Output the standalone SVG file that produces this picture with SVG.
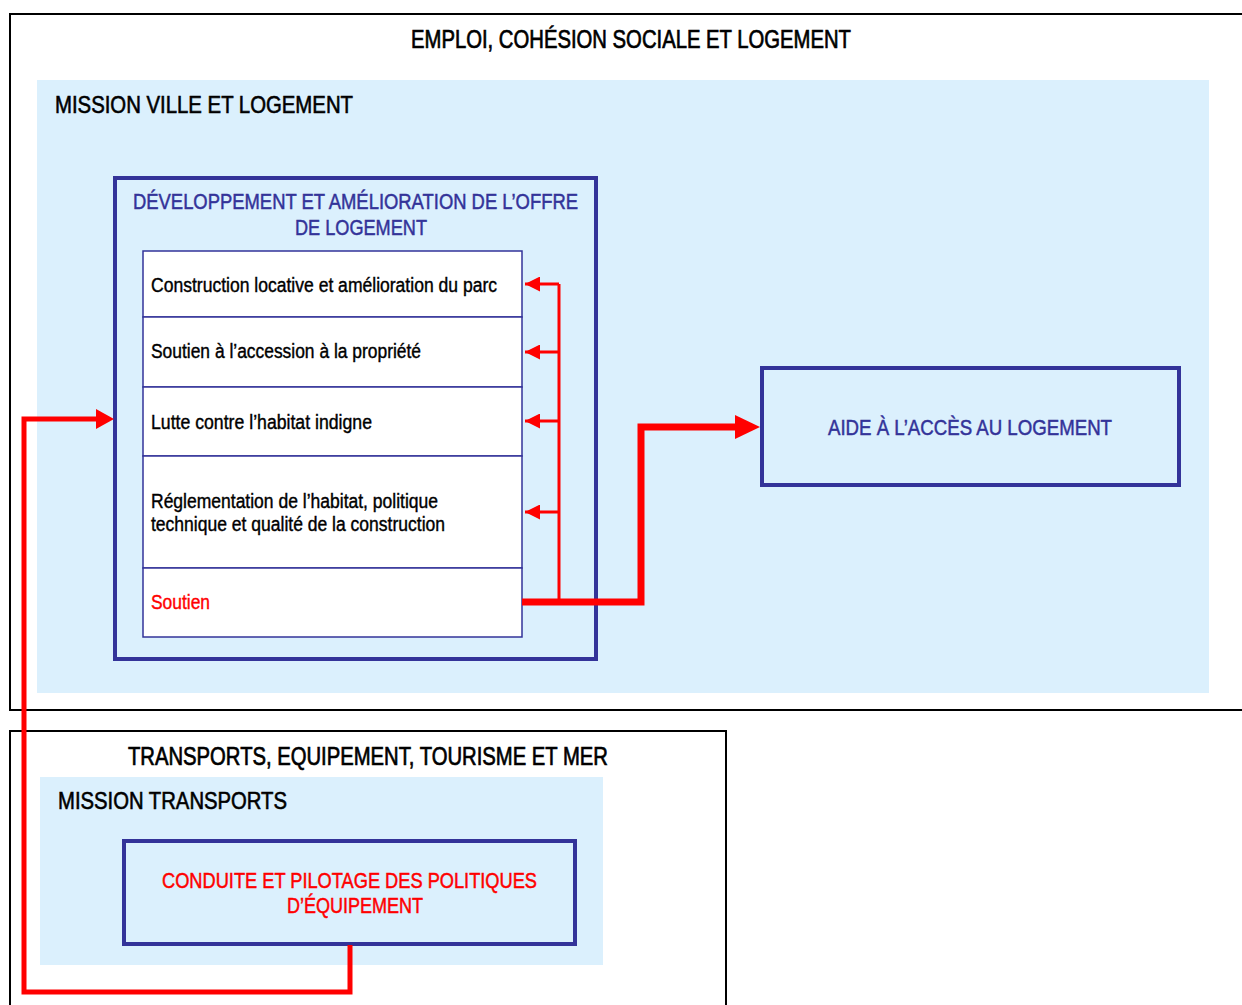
<svg xmlns="http://www.w3.org/2000/svg" width="1242" height="1005" viewBox="0 0 1242 1005">
<style>
text{font-family:"Liberation Sans Narrow","Liberation Sans",Arial,sans-serif;stroke-width:0.5}
.outer{fill:#fff;stroke:#000;stroke-width:2}
.mission{fill:#dbf0fd}
.prog{fill:#dbf0fd;stroke:#333399;stroke-width:4}
.row{fill:#fff;stroke:#333399;stroke-width:1.5}
.h1{font-size:25px;fill:#000;stroke:#000;stroke-width:0.7}
.h2{font-size:24px;fill:#000;stroke:#000;stroke-width:0.6}
.ptitle{font-size:22px;fill:#333399;stroke:#333399}
.rt{font-size:20px;fill:#000;stroke:#000;stroke-width:0.4}
.rd{fill:#ff0000;stroke:#ff0000}
.red{stroke:#ff0000;fill:none}
</style>
<defs>
<marker id="ah" markerWidth="5" markerHeight="5" refX="5" refY="2.5" orient="auto" markerUnits="strokeWidth"><path d="M0,0L5,2.5L0,5Z" fill="#ff0000"/></marker>
</defs>
<g id="emploi">
<rect class="outer" x="10" y="14" width="1240" height="696"/>
<text class="h1" x="411" y="48" textLength="440" lengthAdjust="spacingAndGlyphs">EMPLOI, COHÉSION SOCIALE ET LOGEMENT</text>
</g>
<g id="mission-ville">
<rect class="mission" x="37" y="80" width="1172" height="613"/>
<text class="h2" x="55" y="113" textLength="298" lengthAdjust="spacingAndGlyphs">MISSION VILLE ET LOGEMENT</text>
</g>
<g id="dev-offre">
<rect class="prog" x="115" y="178" width="481" height="481"/>
<text class="ptitle" x="133" y="209" textLength="445" lengthAdjust="spacingAndGlyphs">DÉVELOPPEMENT ET AMÉLIORATION DE L’OFFRE</text>
<text class="ptitle" x="295" y="235" textLength="132" lengthAdjust="spacingAndGlyphs">DE LOGEMENT</text>
</g>
<g id="actions">
<rect class="row" x="143" y="251" width="379" height="66"/>
<text class="rt" x="151" y="292" textLength="346" lengthAdjust="spacingAndGlyphs">Construction locative et amélioration du parc</text>
<rect class="row" x="143" y="317" width="379" height="70"/>
<text class="rt" x="151" y="358" textLength="270" lengthAdjust="spacingAndGlyphs">Soutien à l’accession à la propriété</text>
<rect class="row" x="143" y="387" width="379" height="69"/>
<text class="rt" x="151" y="429" textLength="221" lengthAdjust="spacingAndGlyphs">Lutte contre l’habitat indigne</text>
<rect class="row" x="143" y="456" width="379" height="112"/>
<text class="rt" x="151" y="508" textLength="287" lengthAdjust="spacingAndGlyphs">Réglementation de l’habitat, politique</text>
<text class="rt" x="151" y="531" textLength="294" lengthAdjust="spacingAndGlyphs">technique et qualité de la construction</text>
<rect class="row" x="143" y="568" width="379" height="69"/>
<text class="rt rd" x="151" y="609" textLength="59" lengthAdjust="spacingAndGlyphs">Soutien</text>
</g>
<g id="aide">
<rect class="prog" x="762" y="368" width="417" height="117"/>
<text class="ptitle" x="828" y="435" textLength="284" lengthAdjust="spacingAndGlyphs">AIDE À L’ACCÈS AU LOGEMENT</text>
</g>
<g id="transports">
<rect class="outer" x="10" y="731" width="716" height="290"/>
<text class="h1" x="128" y="765" textLength="480" lengthAdjust="spacingAndGlyphs">TRANSPORTS, EQUIPEMENT, TOURISME ET MER</text>
</g>
<g id="mission-transports">
<rect class="mission" x="40" y="777" width="563" height="188"/>
<text class="h2" x="58" y="809" textLength="229" lengthAdjust="spacingAndGlyphs">MISSION TRANSPORTS</text>
</g>
<g id="conduite">
<rect class="prog" x="124" y="841" width="451" height="103"/>
<text class="ptitle rd" x="162" y="888" textLength="375" lengthAdjust="spacingAndGlyphs">CONDUITE ET PILOTAGE DES POLITIQUES</text>
<text class="ptitle rd" x="287" y="913" textLength="136" lengthAdjust="spacingAndGlyphs">D’ÉQUIPEMENT</text>
</g>
<g id="connectors">
<path class="red" stroke-width="3" d="M559,602V284"/>
<path class="red" stroke-width="3" d="M559,284H525" marker-end="url(#ah)"/>
<path class="red" stroke-width="3" d="M559,352H525" marker-end="url(#ah)"/>
<path class="red" stroke-width="3" d="M559,421H525" marker-end="url(#ah)"/>
<path class="red" stroke-width="3" d="M559,512H525" marker-end="url(#ah)"/>
<path class="red" stroke-width="7" d="M522,602H641V427H735"/>
<path d="M735,415L760,427L735,439Z" fill="#ff0000"/>
<path class="red" stroke-width="5" d="M350,945V992H24V419H97"/>
<path d="M96,409L114,419L96,429Z" fill="#ff0000"/>
</g>
</svg>
